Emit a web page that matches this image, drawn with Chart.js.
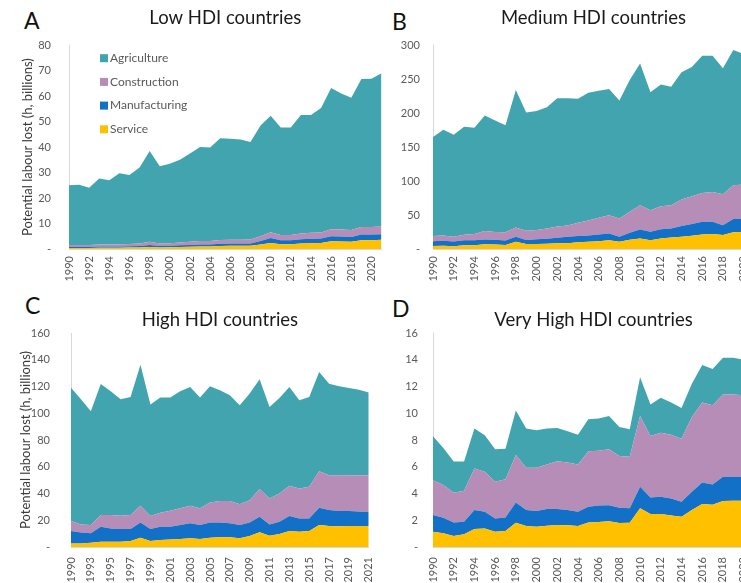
<!DOCTYPE html>
<html>
<head>
<meta charset="utf-8">
<title>Potential labour lost by HDI group</title>
<script src="https://cdn.jsdelivr.net/npm/chart.js@4.4.1/dist/chart.umd.min.js"></script>
<style>
  html, body { margin: 0; padding: 0; background: #fff; width: 741px; height: 583px; overflow: hidden; }
  .panel { position: absolute; }
  .letter { position: absolute; font-family: Lato, sans-serif; font-size: 23px; color: #111; line-height: normal; }
</style>
</head>
<body>
<div class="letter" style="left:24px;top:6px">A</div>
<div class="letter" style="left:392px;top:7px">B</div>
<div class="letter" style="left:25px;top:291px">C</div>
<div class="letter" style="left:392px;top:294px">D</div>

<div class="panel" style="left:0;top:0;width:392px;height:290px"><canvas id="chartLow"></canvas></div>
<div class="panel" style="left:392px;top:0;width:392px;height:290px"><canvas id="chartMedium"></canvas></div>
<div class="panel" style="left:0;top:290px;width:392px;height:293px"><canvas id="chartHigh"></canvas></div>
<div class="panel" style="left:392px;top:290px;width:392px;height:293px"><canvas id="chartVeryHigh"></canvas></div>

<script>
// categorías (años)
const years = [1990, 1991, 1992, 1993, 1994, 1995, 1996, 1997, 1998, 1999, 2000, 2001, 2002, 2003, 2004, 2005,
               2006, 2007, 2008, 2009, 2010, 2011, 2012, 2013, 2014, 2015, 2016, 2017, 2018, 2019, 2020, 2021];
// el panel C no tiene 1992
const yearsHigh = [1990, 1991, 1993, 1994, 1995, 1996, 1997, 1998, 1999, 2000, 2001, 2002, 2003, 2004, 2005,
                   2006, 2007, 2008, 2009, 2010, 2011, 2012, 2013, 2014, 2015, 2016, 2017, 2018, 2019, 2020, 2021];

// orden de apilado: de abajo hacia arriba
const sectors = ['Service', 'Manufacturing', 'Construction', 'Agriculture'];
const sectorColors = ['#ffc000', '#1270c6', '#b58db6', '#41a4ae'];

// A - Low HDI (h, billions)
const lowService       = [0.4, 0.4, 0.4, 0.5, 0.5, 0.5, 0.6, 0.6, 0.8, 0.6, 0.7, 0.8, 0.9, 1.0, 1.0, 1.2, 1.3, 1.3, 1.3, 1.8, 2.4, 1.9, 1.9, 2.2, 2.3, 2.4, 3.0, 2.9, 2.8, 3.4, 3.4, 3.6];
const lowManufacturing = [0.4, 0.4, 0.4, 0.5, 0.5, 0.5, 0.5, 0.6, 0.8, 0.6, 0.6, 0.7, 0.7, 0.8, 0.8, 0.9, 0.9, 0.9, 0.9, 1.3, 1.9, 1.5, 1.5, 1.6, 1.7, 1.7, 2.0, 2.0, 1.9, 2.3, 2.3, 2.2];
const lowConstruction  = [0.8, 0.8, 0.8, 0.8, 0.8, 0.9, 0.9, 1.0, 1.2, 1.0, 1.0, 1.1, 1.2, 1.3, 1.3, 1.4, 1.4, 1.4, 1.5, 1.9, 2.3, 2.1, 2.1, 2.3, 2.4, 2.4, 2.8, 2.8, 2.8, 2.9, 2.9, 3.0];
const lowAgriculture   = [23.4, 23.6, 22.4, 25.9, 25.2, 27.8, 27.0, 29.8, 35.7, 30.3, 31.2, 32.4, 34.7, 36.9, 36.7, 40.0, 39.7, 39.4, 38.3, 43.5, 45.7, 42.2, 42.2, 46.5, 46.2, 48.8, 55.4, 53.3, 51.9, 58.1, 58.2, 60.2];

// B - Medium HDI
const medService       = [4.4, 4.8, 4.2, 5.5, 5.5, 6.9, 6.5, 5.9, 10.7, 7.3, 7.5, 7.8, 8.3, 8.3, 9.8, 10.5, 11.5, 13, 10.8, 13.5, 15.6, 13, 15.6, 17, 18, 19.5, 21.5, 22, 20.5, 24.5, 25, 25.5];
const medManufacturing = [7.1, 7.2, 6.8, 7.5, 7.5, 7.1, 7.0, 6.6, 7.3, 5.9, 7.0, 7.2, 8.3, 9.7, 9.2, 9.5, 10, 10, 7.2, 10.5, 13.2, 12.4, 13.4, 13.3, 15.7, 17.2, 18.5, 18, 14.5, 19.5, 19.5, 19.5];
const medConstruction  = [7.5, 8, 7, 8, 9, 12.4, 11.5, 12, 13.8, 13.8, 13.5, 15, 16.4, 16.5, 19.6, 22, 24.5, 26.8, 27, 31, 35.7, 31.6, 34, 34.2, 39.3, 41, 42.6, 44, 45.6, 50, 50.5, 51];
const medAgriculture   = [146, 155.5, 150, 159, 156.4, 170.1, 164, 157.5, 202.2, 174, 175, 178.6, 189, 187.5, 182.4, 188, 187, 185.8, 173.5, 193.8, 208.5, 173.7, 179, 174.5, 187, 190.3, 201.9, 200.5, 185.4, 198.8, 192, 194];

// C - High HDI
const highService       = [2.7, 2.7, 3.2, 4, 4, 4, 4.5, 7, 4.5, 5.2, 5.7, 6, 6.5, 6, 7, 7.2, 7.2, 6.5, 8.2, 11, 8.5, 9.7, 11.9, 11.4, 11.9, 16.4, 15.7, 15.5, 15.7, 15.7, 15.7];
const highManufacturing = [9.2, 8.2, 7, 11.2, 9.9, 9.4, 8.9, 11.4, 8.9, 10, 9.5, 10.4, 11.2, 10.4, 11.4, 11.2, 10.5, 9.9, 10.2, 11.6, 8.4, 9.2, 11.2, 10, 9.5, 13, 11.9, 11.4, 11.2, 10.8, 10.5];
const highConstruction  = [7.6, 6, 6.2, 8.7, 10, 10, 10.5, 12.4, 9.7, 10.4, 11.9, 12.5, 13.1, 12.5, 14.9, 15.9, 16.6, 15.5, 16.6, 20.7, 19.4, 21.1, 22.7, 22.4, 23.6, 27.3, 26.1, 26.8, 26.8, 27, 27.3];
const highAgriculture   = [99.5, 93.5, 85.1, 98, 92.5, 87, 88.3, 105.5, 83.4, 86.1, 84.6, 87.5, 88.8, 82.8, 86.8, 82.9, 79.1, 74.1, 79.7, 82.1, 68.4, 71.4, 73.8, 65.9, 67.2, 74.1, 68.4, 66.4, 65.2, 64, 62];

// D - Very High HDI
const vhService       = [1.14, 1.02, 0.82, 0.95, 1.34, 1.39, 1.14, 1.19, 1.81, 1.57, 1.52, 1.59, 1.64, 1.62, 1.57, 1.84, 1.86, 1.92, 1.79, 1.81, 2.89, 2.46, 2.46, 2.36, 2.26, 2.76, 3.21, 3.16, 3.43, 3.45, 3.45, 3.45];
const vhManufacturing = [1.25, 1.17, 1.02, 0.94, 1.42, 1.25, 1.0, 1.02, 1.52, 1.19, 1.17, 1.25, 1.2, 1.14, 1.07, 1.17, 1.25, 1.21, 1.14, 1.08, 1.61, 1.25, 1.3, 1.27, 1.12, 1.37, 1.62, 1.52, 1.82, 1.8, 1.8, 1.8];
const vhConstruction  = [2.61, 2.44, 2.21, 2.31, 3.11, 2.98, 2.73, 2.86, 3.54, 3.16, 3.23, 3.33, 3.58, 3.56, 3.53, 4.15, 4.09, 4.17, 3.87, 3.85, 5.3, 4.59, 4.79, 4.77, 4.72, 5.59, 5.97, 5.92, 6.15, 6.15, 6.1, 6.05];
const vhAgriculture   = [3.28, 2.77, 2.35, 2.2, 2.99, 2.74, 2.43, 2.28, 3.33, 2.94, 2.81, 2.69, 2.48, 2.34, 2.23, 2.39, 2.4, 2.5, 2.18, 2.06, 2.9, 2.35, 2.6, 2.4, 2.3, 2.48, 2.8, 2.7, 2.75, 2.75, 2.65, 2.5];

const yAxisTitle = 'Potential labour lost (h, billions)';
const font = 'Lato';

// leyenda vertical dentro del área del gráfico (sólo panel A)
const innerLegend = {
    id: 'innerLegend',
    afterDraw(chart, args, opts) {
        if (!opts.show) return;
        const ctx = chart.ctx;
        const x = chart.chartArea.left + 31;
        let y = chart.chartArea.top + 13;
        ctx.save();
        ctx.font = '12px ' + font;
        ctx.textBaseline = 'middle';
        chart.data.datasets.slice().reverse().forEach(ds => {
            ctx.fillStyle = ds.backgroundColor;
            ctx.fillRect(x, y - 4, 8, 8);
            ctx.fillStyle = '#595959';
            ctx.fillText(ds.label, x + 10, y);
            y += 23.7;
        });
        ctx.restore();
    }
};

function makeChart(id, cfg) {
    return new Chart(document.getElementById(id), {
        type: 'line',
        data: {
            labels: cfg.labels,
            datasets: sectors.map((name, i) => ({
                label: name,
                data: cfg.series[i],
                backgroundColor: sectorColors[i],
                borderWidth: 0,
                pointRadius: 0,
                tension: 0,
                fill: i === 0 ? 'origin' : '-1'
            }))
        },
        options: {
            responsive: true,
            maintainAspectRatio: false,
            animation: false,
            layout: { padding: { left: 0, right: cfg.padRight, top: 0, bottom: 0 } },
            plugins: {
                legend: { display: false },
                tooltip: { enabled: false },
                title: {
                    display: true,
                    text: cfg.title,
                    fullSize: false,
                    color: '#1a1a1a',
                    font: { family: font, size: 18.5, weight: 'normal' },
                    padding: cfg.titlePad
                },
                innerLegend: { show: !!cfg.legend }
            },
            scales: {
                x: {
                    grid: { display: false, drawTicks: false },
                    border: { display: true, color: '#d9d9d9' },
                    ticks: {
                        autoSkip: false,
                        minRotation: 90,
                        maxRotation: 90,
                        padding: cfg.xPad,
                        color: '#595959',
                        font: { family: font, size: 11 },
                        callback: function (v, i) { return i % 2 === 0 ? this.getLabelForValue(v) : null; }
                    },
                    afterFit: s => { s.height = cfg.xHeight; }
                },
                y: {
                    stacked: true,
                    min: 0,
                    max: cfg.max,
                    grid: { display: false, drawTicks: false },
                    border: { display: true, color: '#d9d9d9' },
                    ticks: {
                        stepSize: cfg.step,
                        padding: cfg.yPad,
                        color: '#595959',
                        font: { family: font, size: 11 },
                        callback: v => v === 0 ? '-' : v
                    },
                    title: {
                        display: !!cfg.yTitle,
                        text: cfg.yTitle || '',
                        color: '#3a3a3a',
                        font: { family: font, size: 13 },
                        padding: { top: cfg.yTitlePad || 0, bottom: 0 }
                    },
                    afterFit: s => { s.width = cfg.yWidth; }
                }
            }
        },
        plugins: [innerLegend]
    });
}

makeChart('chartLow', {
    title: 'Low HDI countries', labels: years,
    series: [lowService, lowManufacturing, lowConstruction, lowAgriculture],
    max: 80, step: 10, yTitle: yAxisTitle, yTitlePad: 20, legend: true,
    yWidth: 69, yPad: 18, padRight: 8, xHeight: 41, xPad: 7,
    titlePad: { top: 7, bottom: 16 }
});

makeChart('chartMedium', {
    title: 'Medium HDI countries', labels: years,
    series: [medService, medManufacturing, medConstruction, medAgriculture],
    max: 300, step: 50,
    yWidth: 41, yPad: 13, padRight: 30, xHeight: 41, xPad: 7,
    titlePad: { top: 7, bottom: 16 }
});

makeChart('chartHigh', {
    title: 'High HDI countries', labels: yearsHigh,
    series: [highService, highManufacturing, highConstruction, highAgriculture],
    max: 160, step: 20, yTitle: yAxisTitle, yTitlePad: 18,
    yWidth: 71, yPad: 21, padRight: 8, xHeight: 36, xPad: 10,
    titlePad: { top: 19, bottom: 1.8 }
});

makeChart('chartVeryHigh', {
    title: 'Very High HDI countries', labels: years,
    series: [vhService, vhManufacturing, vhConstruction, vhAgriculture],
    max: 16, step: 2,
    yWidth: 41, yPad: 15, padRight: 30, xHeight: 36, xPad: 10,
    titlePad: { top: 19, bottom: 1.8 }
});
</script>
</body>
</html>
